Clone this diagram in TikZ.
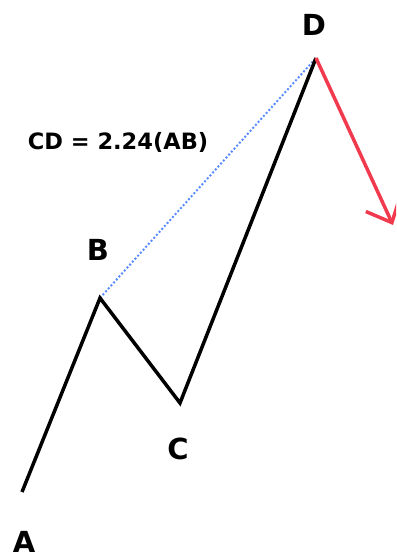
\documentclass[tikz,border=0pt]{standalone}
\usepackage{fontspec}
\setmainfont{DejaVu Sans}
\usetikzlibrary{arrows.meta}
\usepackage{xcolor}

\definecolor{legblue}{HTML}{5B8CFF}
\definecolor{legred}{HTML}{F23A4E}

\begin{document}
\begin{tikzpicture}[
        x=1pt, y=-1pt,
        leg/.style={line width=3.5pt, black, line join=miter},
        ratio/.style={line width=2pt, legblue, dotted},
        exitleg/.style={line width=3.5pt, legred,
            -{Straight Barb[length=21pt, width=38pt]}},
        pointlabel/.style={font=\bfseries\fontsize{29}{33}\selectfont, inner sep=0pt},
        ratiolabel/.style={font=\bfseries\fontsize{22.5}{26}\selectfont, inner sep=0pt}
    ]
        \clip (0,0) rectangle (396,559);

        % pattern pivots
        \coordinate (A) at (22,492);
        \coordinate (B) at (100,298);
        \coordinate (C) at (180,403);
        \coordinate (D) at (316,58);
        \coordinate (E) at (393,225);

        % pivot labels
        \node[pointlabel] (lA) at (24,542) {A};
        \node[pointlabel] (lB) at (98,250) {B};
        \node[pointlabel] (lC) at (178,449) {C};
        \node[pointlabel] (lD) at (314,25) {D};
        \node[ratiolabel] (cd) at (118,142) {CD = 2.24(AB)};

        % legs
        \draw[ratio] (B) -- (D);
        \draw[leg] (A) -- (B) -- (C) -- (D);
        \draw[exitleg] (D) -- (E);
    \end{tikzpicture}
\end{document}
